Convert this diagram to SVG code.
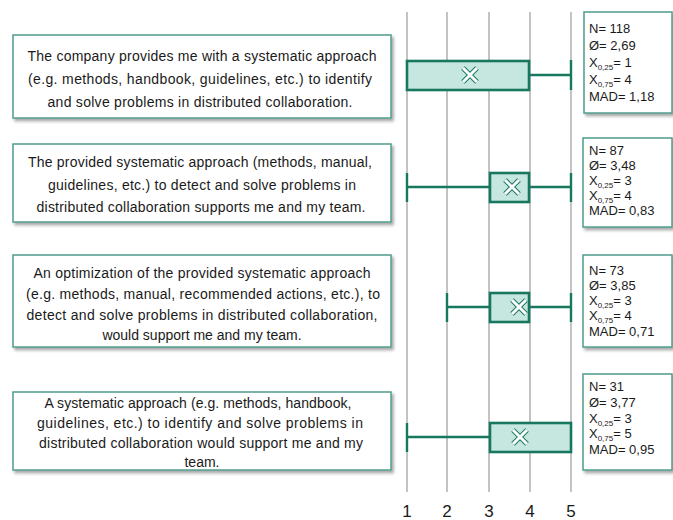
<svg xmlns="http://www.w3.org/2000/svg" width="673" height="520" viewBox="0 0 673 520">
<defs>
<filter id="sh" x="-5%" y="-5%" width="115%" height="120%">
<feDropShadow dx="2" dy="2.5" stdDeviation="1.5" flood-color="#000" flood-opacity="0.35"/>
</filter>
<style>
.q{fill:#fff;stroke:#4f9c8c;stroke-width:1.5;filter:url(#sh)}
.qt{font-family:"Liberation Sans",Arial,sans-serif;font-size:14px;fill:#1a1a1a;text-anchor:middle}
.st{font-family:"Liberation Sans",Arial,sans-serif;font-size:13px;fill:#1a1a1a}
.sub{font-size:8px}
.grid{stroke:#b4b4b4;stroke-width:1.6}
.box{fill:#c6e7e0;stroke:#17785f;stroke-width:2.6}
.wh{stroke:#17785f;stroke-width:2.4;fill:none}
.mk1{stroke:#17785f;stroke-width:5;fill:none}
.mk2{stroke:#fff;stroke-width:3;fill:none}
.ax{font-family:"Liberation Sans",Arial,sans-serif;font-size:17px;fill:#1a1a1a;text-anchor:middle}
</style>
<g id="xm"><path class="mk1" d="M-7,-7L7,7M7,-7L-7,7"/><path class="mk2" d="M-7,-7L7,7M7,-7L-7,7"/></g>
</defs>
<rect width="673" height="520" fill="#fff"/>

<g id="grid">
<line class="grid" x1="407" y1="12" x2="407" y2="492"/>
<line class="grid" x1="447" y1="12" x2="447" y2="492"/>
<line class="grid" x1="489" y1="12" x2="489" y2="492"/>
<line class="grid" x1="530" y1="12" x2="530" y2="492"/>
<line class="grid" x1="571" y1="12" x2="571" y2="492"/>
<text class="ax" x="407" y="517">1</text>
<text class="ax" x="447" y="517">2</text>
<text class="ax" x="489" y="517">3</text>
<text class="ax" x="530" y="517">4</text>
<text class="ax" x="571" y="517">5</text>
</g>

<g id="q1">
<rect class="q" x="13" y="35" width="378" height="83"/>
<text class="qt" x="202" y="61" textLength="349" lengthAdjust="spacing">The company provides me with a systematic approach</text>
<text class="qt" x="200" y="84" textLength="344" lengthAdjust="spacing">(e.g. methods, handbook, guidelines, etc.) to identify</text>
<text class="qt" x="200" y="107" textLength="305" lengthAdjust="spacing">and solve problems in distributed collaboration.</text>
</g>
<g id="q2">
<rect class="q" x="13" y="144" width="378" height="78"/>
<text class="qt" x="200" y="167" textLength="344" lengthAdjust="spacing">The provided systematic approach (methods, manual,</text>
<text class="qt" x="202" y="190" textLength="308" lengthAdjust="spacing">guidelines, etc.) to detect and solve problems in</text>
<text class="qt" x="201" y="212" textLength="329" lengthAdjust="spacing">distributed collaboration supports me and my team.</text>
</g>
<g id="q3">
<rect class="q" x="13" y="255" width="378" height="92"/>
<text class="qt" x="202" y="278" textLength="337" lengthAdjust="spacing">An optimization of the provided systematic approach</text>
<text class="qt" x="203" y="299" textLength="354" lengthAdjust="spacing">(e.g. methods, manual, recommended actions, etc.), to</text>
<text class="qt" x="202" y="320" textLength="351" lengthAdjust="spacing">detect and solve problems in distributed collaboration,</text>
<text class="qt" x="202" y="340">would support me and my team.</text>
</g>
<g id="q4">
<rect class="q" x="13" y="392" width="378" height="78"/>
<text class="qt" x="198" y="408" textLength="307" lengthAdjust="spacing">A systematic approach (e.g. methods, handbook,</text>
<text class="qt" x="200" y="428" textLength="326" lengthAdjust="spacing">guidelines, etc.) to identify and solve problems in</text>
<text class="qt" x="201" y="448" textLength="324" lengthAdjust="spacing">distributed collaboration would support me and my</text>
<text class="qt" x="202" y="467">team.</text>
</g>

<g id="plots">
<g id="p1">
<path class="wh" d="M529,75H571M571,60V90"/>
<rect class="box" x="407" y="61" width="122" height="29"/>
<use href="#xm" x="470" y="75"/>
</g>
<g id="p2">
<path class="wh" d="M407,187H490M407,173V202M529,187H571M571,173V202"/>
<rect class="box" x="490" y="173" width="39" height="29"/>
<use href="#xm" x="512" y="187"/>
</g>
<g id="p3">
<path class="wh" d="M447,307H490M447,293V322M529,307H571M571,293V322"/>
<rect class="box" x="490" y="293" width="39" height="29"/>
<use href="#xm" x="519" y="307"/>
</g>
<g id="p4">
<path class="wh" d="M407,437H490M407,423V452"/>
<rect class="box" x="490" y="423" width="81" height="29"/>
<use href="#xm" x="520" y="437"/>
</g>
</g>

<g id="s1">
<rect class="q" x="584" y="12" width="88" height="101"/>
<text class="st" x="589" y="33">N= 118</text>
<text class="st" x="589" y="50">Ø= 2,69</text>
<text class="st" x="589" y="67">X<tspan class="sub" dy="2.5">0,25</tspan><tspan dy="-2.5">= 1</tspan></text>
<text class="st" x="589" y="84">X<tspan class="sub" dy="2.5">0,75</tspan><tspan dy="-2.5">= 4</tspan></text>
<text class="st" x="589" y="101">MAD= 1,18</text>
</g>
<g id="s2">
<rect class="q" x="583" y="138" width="89" height="89"/>
<text class="st" x="589" y="155">N= 87</text>
<text class="st" x="589" y="170">Ø= 3,48</text>
<text class="st" x="589" y="185">X<tspan class="sub" dy="2.5">0,25</tspan><tspan dy="-2.5">= 3</tspan></text>
<text class="st" x="589" y="200">X<tspan class="sub" dy="2.5">0,75</tspan><tspan dy="-2.5">= 4</tspan></text>
<text class="st" x="589" y="215">MAD= 0,83</text>
</g>
<g id="s3">
<rect class="q" x="583" y="255" width="89" height="92"/>
<text class="st" x="589" y="275">N= 73</text>
<text class="st" x="589" y="290">Ø= 3,85</text>
<text class="st" x="589" y="305">X<tspan class="sub" dy="2.5">0,25</tspan><tspan dy="-2.5">= 3</tspan></text>
<text class="st" x="589" y="320">X<tspan class="sub" dy="2.5">0,75</tspan><tspan dy="-2.5">= 4</tspan></text>
<text class="st" x="589" y="336">MAD= 0,71</text>
</g>
<g id="s4">
<rect class="q" x="583" y="374" width="89" height="96"/>
<text class="st" x="589" y="391">N= 31</text>
<text class="st" x="589" y="407">Ø= 3,77</text>
<text class="st" x="589" y="423">X<tspan class="sub" dy="2.5">0,25</tspan><tspan dy="-2.5">= 3</tspan></text>
<text class="st" x="589" y="438">X<tspan class="sub" dy="2.5">0,75</tspan><tspan dy="-2.5">= 5</tspan></text>
<text class="st" x="589" y="454">MAD= 0,95</text>
</g>
</svg>
